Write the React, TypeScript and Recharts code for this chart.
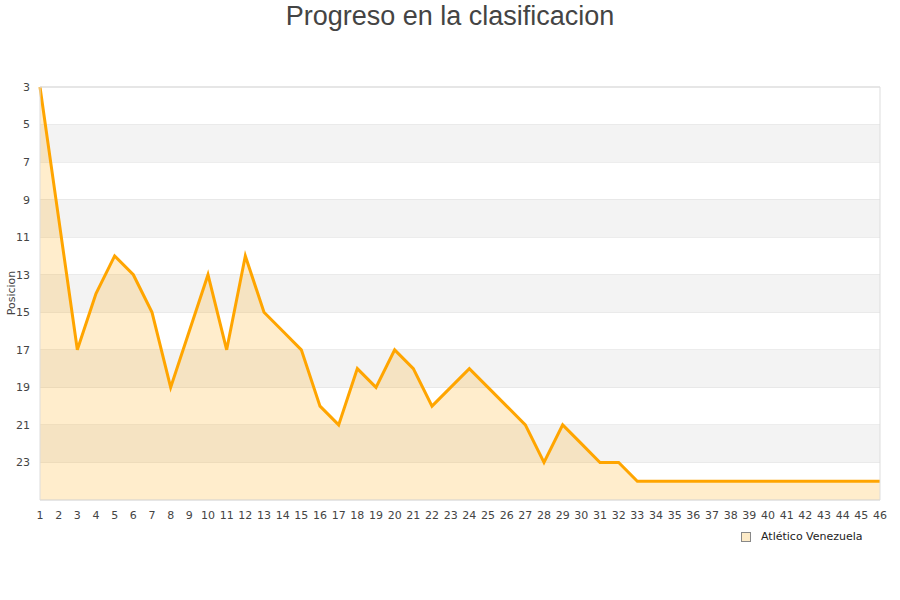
import { AreaChart, Area, XAxis, YAxis, CartesianGrid, ReferenceArea, ReferenceLine } from "recharts";

// Jornada and position of Atlético Venezuela after each round
const jornadas = Array.from({ length: 46 }, (_, i) => i + 1);
const posiciones = [
  3, 10, 17, 14, 12, 13, 15, 19, 16, 13, 17, 12, 15, 16, 17, 20, 21, 18, 19, 17,
  18, 20, 19, 18, 19, 20, 21, 23, 21, 22, 23, 23, 24, 24, 24, 24, 24, 24, 24, 24,
  24, 24, 24, 24, 24, 24,
];
const yTicks = [3, 5, 7, 9, 11, 13, 15, 17, 19, 21, 23];
const bandas = [
  [5, 7],
  [9, 11],
  [13, 15],
  [17, 19],
  [21, 23],
];

const data = jornadas.map((j, i) => ({ jornada: j, pos: posiciones[i] }));

const tickStyle = { fontSize: 11, fill: "#444", fontFamily: "DejaVu Sans" };

export default function App() {
  return (
    <div style={{ position: "absolute", left: 0, top: 0, width: 900, height: 600, background: "#fff" }}>
      <div
        style={{
          position: "absolute",
          top: 0,
          left: 0,
          width: 900,
          textAlign: "center",
          fontFamily: "Liberation Sans, Arial, sans-serif",
          fontSize: 27,
          color: "#444",
          lineHeight: "32px",
        }}
      >
        Progreso en la clasificacion
      </div>
      <AreaChart width={900} height={600} data={data} margin={{ top: 87, right: 20, left: 0, bottom: 70 }}>
        {bandas.map(([a, b]) => (
          <ReferenceArea key={a} y1={a} y2={b} fill="#f3f3f3" fillOpacity={1} stroke="none" />
        ))}
        <CartesianGrid vertical={false} stroke="#e0e0e0" />
        <XAxis
          dataKey="jornada"
          interval={0}
          tick={tickStyle}
          tickLine={false}
          axisLine={{ stroke: "#ddd" }}
          tickMargin={5}
        />
        <YAxis
          reversed
          domain={[3, 25]}
          ticks={yTicks}
          interval={0}
          width={40}
          tick={tickStyle}
          tickLine={false}
          axisLine={{ stroke: "#ddd" }}
          tickMargin={4}
          label={{
            content: () => (
              <text
                x={15}
                y={293}
                transform="rotate(-90 15 293)"
                textAnchor="middle"
                fontSize={11}
                fill="#444"
                fontFamily="DejaVu Sans"
              >
                Posicion
              </text>
            ),
          }}
        />
        <ReferenceLine x={46} stroke="#ddd" />
        <ReferenceLine y={3} stroke="#ddd" />
        <Area
          type="linear"
          dataKey="pos"
          stroke="#ffa500"
          strokeWidth={3}
          fill="#ffa500"
          fillOpacity={0.2}
          dot={false}
          activeDot={false}
          baseValue="dataMax"
          isAnimationActive={false}
        />
      </AreaChart>
      <div
        style={{
          position: "absolute",
          left: 741,
          top: 530,
          display: "flex",
          alignItems: "center",
          fontFamily: "DejaVu Sans",
          fontSize: 11,
          color: "#222",
        }}
      >
        <span
          style={{
            display: "inline-block",
            width: 8,
            height: 8,
            background: "#fdebc8",
            border: "1px solid #888",
            marginRight: 10,
          }}
        />
        Atlético Venezuela
      </div>
    </div>
  );
}
